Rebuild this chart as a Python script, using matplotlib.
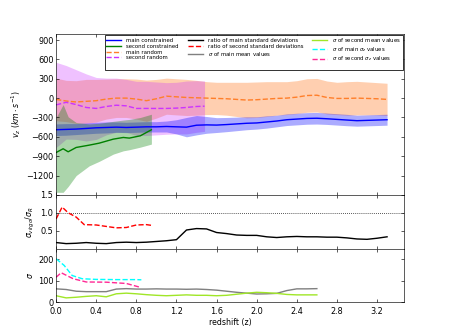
import matplotlib
matplotlib.use('Agg')
import matplotlib.pyplot as plt
import numpy as np

# redshift grid of the main samples
z_main = [0.0, 0.1, 0.2, 0.3, 0.4, 0.5, 0.6, 0.7, 0.8, 0.9, 1.0, 1.1, 1.2, 1.3, 1.4, 1.5, 1.6,
          1.7, 1.8, 1.9, 2.0, 2.1, 2.2, 2.3, 2.4, 2.5, 2.6, 2.7, 2.8, 2.9, 3.0, 3.1, 3.2, 3.3]

# main constrained mean v_z and its spread
main_con = [-490, -485, -480, -470, -460, -455, -450, -455, -450, -445, -445, -440, -445, -450,
            -420, -415, -418, -410, -400, -390, -385, -370, -355, -335, -325, -315, -312, -320,
            -330, -340, -350, -345, -340, -335]
main_con_std = [90, 90, 85, 85, 85, 85, 80, 80, 80, 80, 80, 85, 110, 150, 150, 130, 115, 110,
                105, 100, 95, 95, 90, 90, 90, 90, 90, 88, 88, 88, 85, 85, 85, 85]

# main random mean v_z and its spread
main_rnd = [-20, -45, -60, -50, -40, -15, 0, 0, -15, -40, -10, 30, 20, 10, 5, 0, -5, -10, -20,
            -30, -25, -15, -5, 0, 15, 40, 45, 10, -5, -5, 0, -5, -10, -20]
main_rnd_std = [330, 320, 330, 340, 330, 310, 300, 300, 310, 320, 300, 280, 280, 280, 270, 255,
                250, 255, 265, 275, 275, 270, 260, 255, 255, 260, 260, 255, 250, 260, 260, 255,
                250, 250]

# second random
z_sec_rnd = [0.0, 0.1, 0.2, 0.3, 0.4, 0.5, 0.6, 0.7, 0.8, 0.9, 1.0, 1.1, 1.2, 1.3, 1.4, 1.48]
sec_rnd = [-105, -65, -100, -145, -160, -130, -110, -120, -160, -160, -160, -160, -155, -145,
           -130, -125]
sec_rnd_std = [660, 570, 540, 520, 480, 440, 420, 410, 420, 420, 410, 400, 400, 410, 400, 390]

# second constrained
z_sec_con = [0.0, 0.07, 0.12, 0.2, 0.33, 0.43, 0.57, 0.67, 0.73, 0.84, 0.95]
sec_con = [-843, -785, -832, -765, -729, -698, -636, -610, -620, -584, -491]
sec_con_hi = [-300, -100, -290, -378, -400, -390, -360, -340, -330, -300, -250]
sec_con_lo = [-1460, -1460, -1370, -1200, -1050, -980, -868, -817, -800, -760, -713]

# ratios of standard deviations
ratio_main = [0.17, 0.14, 0.15, 0.17, 0.15, 0.14, 0.17, 0.18, 0.17, 0.18, 0.20, 0.22, 0.25,
              0.52, 0.56, 0.55, 0.45, 0.42, 0.38, 0.37, 0.37, 0.33, 0.31, 0.33, 0.34, 0.33,
              0.33, 0.32, 0.32, 0.30, 0.27, 0.26, 0.29, 0.33]
z_ratio_sec = [0.0, 0.06, 0.12, 0.2, 0.28, 0.4, 0.5, 0.6, 0.7, 0.8, 0.9, 0.95]
ratio_sec = [0.83, 1.16, 1.0, 0.88, 0.67, 0.66, 0.62, 0.58, 0.59, 0.66, 0.67, 0.65]

# sigma of mean values (main up to z=2.6)
z_mean = z_main[:27]
sig_main_mean = [63, 60, 52, 50, 50, 50, 62, 64, 62, 62, 63, 62, 62, 61, 62, 60, 57, 52, 47,
                 43, 39, 40, 42, 55, 63, 63, 64]
sig_sec_mean = [31, 21, 24, 28, 31, 26, 40, 43, 40, 36, 33, 31, 33, 35, 33, 33, 31, 33, 38,
                43, 47, 45, 42, 37, 35, 35, 35]

# sigma of sigma_z values
z_sig_main = [0.0, 0.08, 0.16, 0.26, 0.4, 0.6, 0.8, 0.85]
sig_main_sz = [203, 172, 125, 110, 107, 106, 106, 105]
z_sig_sec = [0.0, 0.05, 0.17, 0.3, 0.5, 0.7, 0.84]
sig_sec_sz = [117, 138, 110, 95, 94, 88, 70]

orange = '#ff7f2a'
violet = '#cc33ff'

fig = plt.figure(figsize=(449 / 56, 336 / 56), dpi=56)
gs = fig.add_gridspec(3, 1, height_ratios=[3, 1, 1], hspace=0,
                      left=0.125, right=0.9, top=0.9, bottom=0.1)
ax1 = fig.add_subplot(gs[0])
ax2 = fig.add_subplot(gs[1], sharex=ax1)
ax3 = fig.add_subplot(gs[2], sharex=ax1)

zm = np.array(z_main)
mc, mcs = np.array(main_con), np.array(main_con_std)
mr, mrs = np.array(main_rnd), np.array(main_rnd_std)
sr, srs = np.array(sec_rnd), np.array(sec_rnd_std)

# top panel: bands then lines
ax1.fill_between(zm, mr - mrs, mr + mrs, color=orange, alpha=0.37, lw=0)
ax1.fill_between(z_sec_rnd, sr - srs, sr + srs, color=violet, alpha=0.3, lw=0)
ax1.fill_between(zm, mc - mcs, mc + mcs, color='b', alpha=0.33, lw=0)
ax1.fill_between(z_sec_con, sec_con_lo, sec_con_hi, color='g', alpha=0.33, lw=0)

h1, = ax1.plot(zm, mc, color='b', lw=1.8, label='main constrained')
h2, = ax1.plot(z_sec_con, sec_con, color='g', lw=1.8, label='second constrained')
h3, = ax1.plot(zm, mr, color=orange, lw=1.8, ls='--', label='main random')
h4, = ax1.plot(z_sec_rnd, sr, color=violet, lw=1.8, ls='--', label='second random')

# middle panel
ax2.axhline(1.0, color='k', ls=':', lw=1)
h5, = ax2.plot(zm, ratio_main, color='k', lw=1.8, label='ratio of main standard deviations')
h6, = ax2.plot(z_ratio_sec, ratio_sec, color='r', lw=1.8, ls='--',
               label='ratio of second standard deviations')

# bottom panel
h7, = ax3.plot(z_mean, sig_main_mean, color='gray', lw=1.8, label=r'$\sigma$ of main mean values')
h8, = ax3.plot(z_mean, sig_sec_mean, color='#a0e628', lw=1.8,
               label=r'$\sigma$ of second mean values')
h9, = ax3.plot(z_sig_main, sig_main_sz, color='cyan', lw=1.8, ls='--',
               label=r'$\sigma$ of main $\sigma_z$ values')
h10, = ax3.plot(z_sig_sec, sig_sec_sz, color='#ff2a95', lw=1.8, ls='--',
                label=r'$\sigma$ of second $\sigma_z$ values')

blank = plt.Line2D([], [], color='none')
# column order: 4 / 3 / 3 rows
order = [h1, h2, h3, h4, h5, h6, h7, blank, h8, h9, h10, blank]
labels = [h.get_label() if h is not blank else '' for h in order]
ax1.legend(order, labels, loc='upper right', ncol=3, fontsize=6.9, handlelength=2.8,
           handletextpad=1.0, columnspacing=1.6, borderaxespad=0.25, labelspacing=0.12,
           borderpad=0.25, fancybox=False, framealpha=1, edgecolor='k')

ax1.set_ylim(-1500, 1000)
ax1.set_yticks([900, 600, 300, 0, -300, -600, -900, -1200])
ax2.set_ylim(0, 1.5)
ax2.set_yticks([0.5, 1.0, 1.5])
ax3.set_ylim(0, 250)
ax3.set_yticks([0, 100, 200])
ax3.set_xlim(0, 3.47)
ax3.set_xticks([0.0, 0.4, 0.8, 1.2, 1.6, 2.0, 2.4, 2.8, 3.2])

for ax in (ax1, ax2, ax3):
    ax.tick_params(direction='in', top=True, right=True, length=4, labelsize=10.5)
for ax in (ax1, ax2):
    ax.tick_params(labelbottom=False)
ax3.tick_params(axis='x', pad=6)

ax1.set_ylabel(r'$v_z\ (km\cdot s^{-1})$', fontsize=10)
ax2.set_ylabel(r'$\sigma_{virgo}/\sigma_R$', fontsize=10)
ax3.set_ylabel(r'$\sigma$', fontsize=10)
ax3.set_xlabel('redshift (z)', fontsize=10, labelpad=2)

fig.savefig('out.png', dpi=56)
